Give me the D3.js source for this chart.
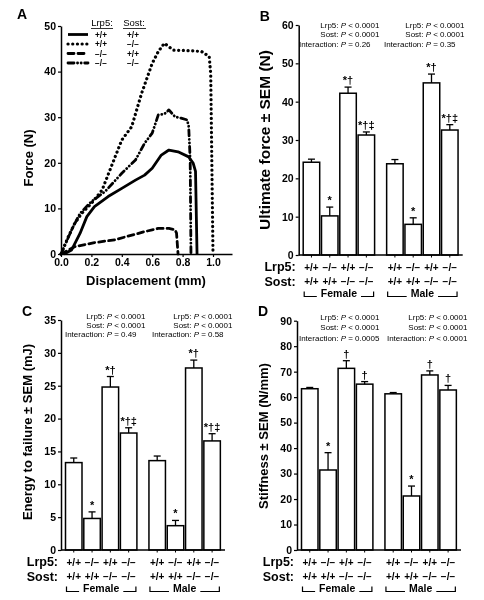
<!DOCTYPE html>
<html>
<head>
<meta charset="utf-8">
<script src="https://cdn.jsdelivr.net/npm/d3@7"></script>
<style>
  html, body { margin: 0; padding: 0; background: #fff; }
  svg { display: block; font-family: "Liberation Sans", Arial, Helvetica, sans-serif; filter: grayscale(100%); }
</style>
</head>
<body>
<svg id="chart" width="484" height="600"></svg>
<script>
// ---------------- DATA ----------------
// Panel A: force-displacement curves [displacement (mm), force (N)]
const curveWT = [[0.02,0],[0.07,0.9],[0.125,4.5],[0.17,8.2],[0.22,10.4],[0.31,12.6],[0.40,14.4],[0.49,16.2],[0.55,17.3],[0.60,18.8],[0.66,21.7],[0.71,22.8],[0.77,22.4],[0.84,21.3],[0.87,19.9],[0.885,18.1],[0.895,0]];
const curveSostKO = [[0,0],[0.048,3.8],[0.09,6.7],[0.136,8.9],[0.20,11.1],[0.27,14.0],[0.33,19.1],[0.40,25.0],[0.465,27.9],[0.53,35.2],[0.60,41.8],[0.64,44.4],[0.68,46.2],[0.74,44.7],[0.84,44.6],[0.925,44.4],[0.975,43.3],[0.985,39.5],[1.0,0]];
const curveLrp5KO = [[0,0],[0.09,1.6],[0.22,2.5],[0.355,3.1],[0.44,3.9],[0.55,4.9],[0.64,5.6],[0.71,5.6],[0.75,5.3],[0.76,4.6],[0.77,0]];
const curveDKO = [[0,0],[0.07,5.3],[0.125,8.9],[0.20,11.5],[0.29,13.7],[0.40,17.7],[0.49,20.6],[0.55,24.3],[0.60,26.5],[0.64,30.5],[0.68,30.7],[0.71,31.6],[0.75,30.1],[0.79,29.8],[0.83,29.4],[0.84,28.0],[0.85,20.6],[0.855,0]];
const legendLrp5 = ["+/+","+/+","−/−","−/−"];
const legendSost = ["+/+","−/−","+/+","−/−"];
const forceTicks = [0,10,20,30,40,50];
const dispTicks = [0,0.2,0.4,0.6,0.8,1.0];

// Panels B-D: groups
const groups = ["Female","Male"];
const lrp5Labels = ["+/+","−/−","+/+","−/−","+/+","−/−","+/+","−/−"];
const sostLabels = ["+/+","+/+","−/−","−/−","+/+","+/+","−/−","−/−"];

const forceMean = [24.2,10.2,42.2,31.3, 23.8,8.0,44.9,32.6];
const forceSem  = [0.8,2.3,1.6,0.8, 1.1,1.7,2.3,1.4];
const forceMarks = ["","*","*†","*†‡","","*","*†","*†‡"];
const forceStats = [["Lrp5:","<","0.0001","Sost:","<","0.0001","Interaction:","=","0.26"],
                    ["Lrp5:","<","0.0001","Sost:","<","0.0001","Interaction:","=","0.35"]];

const energyMean = [13.3,4.8,24.8,17.8, 13.6,3.7,27.7,16.6];
const energySem  = [0.7,1.0,1.6,0.8, 0.7,0.8,1.2,1.1];
const energyMarks = ["","*","*†","*†‡","","*","*†","*†‡"];
const energyStats = [["Lrp5:","<","0.0001","Sost:","<","0.0001","Interaction:","=","0.49"],
                     ["Lrp5:","<","0.0001","Sost:","<","0.0001","Interaction:","=","0.58"]];

const stiffMean = [63.3,31.4,71.3,65.1, 61.3,21.2,68.7,62.8];
const stiffSem  = [0.5,6.8,3.0,1.0, 0.5,3.9,1.6,1.8];
const stiffMarks = ["","*","†","†","","*","†","†"];
const stiffStats = [["Lrp5:","<","0.0001","Sost:","<","0.0001","Interaction:","=","0.0005"],
                    ["Lrp5:","<","0.0001","Sost:","<","0.0001","Interaction:","<","0.0001"]];

// ---------------- DRAW ----------------
const svg = d3.select("#chart");
svg.append("rect").attr("width",484).attr("height",600).attr("fill","#fff");

function styleAxis(g, fs) {
  g.selectAll("path.domain").attr("stroke","#000").attr("stroke-width",1.5);
  g.selectAll(".tick line").attr("stroke","#000").attr("stroke-width",1.2);
  g.selectAll(".tick text").attr("fill","#000").attr("font-size",fs).attr("font-weight","bold")
    .attr("font-family","'Liberation Sans', Arial, sans-serif");
}

// ---- Panel A ----
(function panelA(){
  const x = d3.scaleLinear().domain([0,1.125]).range([61,232]);
  const y = d3.scaleLinear().domain([0,50]).range([254,26]);
  const g = svg.append("g");
  g.append("text").attr("x",17).attr("y",19).text("A").attr("font-size",14).attr("font-weight","bold");

  const ax = g.append("g").attr("transform","translate(0,254)")
    .call(d3.axisBottom(x).tickValues(dispTicks).tickFormat(d3.format(".1f")).tickSize(3).tickSizeOuter(0).tickPadding(2));
  styleAxis(ax, 10.5);
  const ay = g.append("g").attr("transform","translate(61,0)")
    .call(d3.axisLeft(y).tickValues(forceTicks).tickSize(3).tickSizeOuter(0).tickPadding(2));
  styleAxis(ay, 10.5);

  g.append("text").attr("x",146).attr("y",285).attr("text-anchor","middle")
    .attr("font-size",13).attr("font-weight","bold").text("Displacement (mm)");
  g.append("text").attr("transform","translate(33,158) rotate(-90)").attr("text-anchor","middle")
    .attr("font-size",13).attr("font-weight","bold").text("Force (N)");

  const styles = [
    {data: curveWT, dash: null, w: 2.8},
    {data: curveSostKO, dash: "0.1,4.6", w: 3.2},
    {data: curveLrp5KO, dash: "6,4", w: 2.8},
    {data: curveDKO, dash: "6,3.5,0.1,3.5,0.1,3.5", w: 2.8}
  ];
  const line = d3.line().x(d=>x(d[0])).y(d=>y(d[1]));
  styles.forEach(s => {
    g.append("path").datum(s.data).attr("d",line).attr("fill","none").attr("stroke","#000")
      .attr("stroke-width",s.w).attr("stroke-linecap", s.dash ? "round" : "butt")
      .attr("stroke-linejoin","round").attr("stroke-dasharray", s.dash);
  });

  // legend
  const lg = g.append("g");
  lg.append("text").attr("x",102).attr("y",26).attr("text-anchor","middle").attr("font-size",9.5).text("Lrp5:");
  lg.append("text").attr("x",134).attr("y",26).attr("text-anchor","middle").attr("font-size",9.5).text("Sost:");
  lg.append("line").attr("x1",91).attr("x2",113).attr("y1",28.5).attr("y2",28.5).attr("stroke","#000").attr("stroke-width",0.8);
  lg.append("line").attr("x1",123).attr("x2",146).attr("y1",28.5).attr("y2",28.5).attr("stroke","#000").attr("stroke-width",0.8);
  const rowY = [34.5,44,53.5,63];
  styles.forEach((s,i) => {
    lg.append("line").attr("x1",68).attr("x2",88).attr("y1",rowY[i]).attr("y2",rowY[i])
      .attr("stroke","#000").attr("stroke-width",s.w).attr("stroke-linecap", s.dash ? "round":"butt")
      .attr("stroke-dasharray", s.dash);
    lg.append("text").attr("x",101).attr("y",rowY[i]+3).attr("text-anchor","middle").attr("font-size",8.2).attr("font-weight","bold").text(legendLrp5[i]);
    lg.append("text").attr("x",133).attr("y",rowY[i]+3).attr("text-anchor","middle").attr("font-size",8.2).attr("font-weight","bold").text(legendSost[i]);
  });
})();

// ---- Bar panels ----
function barPanel(cfg){
  const g = svg.append("g");
  const y = d3.scaleLinear().domain([0,cfg.yMax]).range([cfg.y0, cfg.yTop]);
  const slot = i => i + (i >= 4 ? 0.56 : 0);
  const step = 18.3, bw = 16.5;
  const x = d3.scaleLinear().domain([0,1]).range([cfg.axisX+4.5, cfg.axisX+4.5+step]);

  g.append("text").attr("x",cfg.axisX-39).attr("y",cfg.y0-234).text(cfg.label)
    .attr("font-size",14).attr("font-weight","bold");

  // stats
  cfg.stats.forEach((st, gi) => {
    const xa = cfg.statX[gi];
    for (let k=0;k<3;k++){
      const yy = cfg.statY[k];
      const t = g.append("text").attr("x",xa-2).attr("y",yy).attr("text-anchor","end").attr("font-size",8);
      t.append("tspan").text(st[k*3] + " ");
      t.append("tspan").attr("font-style","italic").text("P");
      t.append("tspan").text(" " + st[k*3+1]);
      g.append("text").attr("x",xa).attr("y",yy).attr("font-size",8).text(st[k*3+2]);
    }
  });

  // bars
  cfg.means.forEach((m,i) => {
    const bx = x(slot(i));
    g.append("rect").attr("x",bx).attr("y",y(m)).attr("width",bw).attr("height",y(0)-y(m))
      .attr("fill","#fff").attr("stroke","#000").attr("stroke-width",1.5);
    const cx = bx + bw/2, top = y(m + cfg.sems[i]);
    g.append("line").attr("x1",cx).attr("x2",cx).attr("y1",y(m)).attr("y2",top).attr("stroke","#000").attr("stroke-width",1.3);
    g.append("line").attr("x1",cx-3.5).attr("x2",cx+3.5).attr("y1",top).attr("y2",top).attr("stroke","#000").attr("stroke-width",1.3);
    if (cfg.marks[i]) g.append("text").attr("x",cx).attr("y",top-3).attr("text-anchor","middle")
      .attr("font-size",11).attr("font-weight","bold").text(cfg.marks[i]);
    // labels under bars
    g.append("text").attr("x",cx).attr("y",cfg.y0+15.5).attr("text-anchor","middle").attr("font-size",10)
      .attr("font-weight","bold").text(lrp5Labels[i]);
    g.append("text").attr("x",cx).attr("y",cfg.y0+29.5).attr("text-anchor","middle").attr("font-size",10)
      .attr("font-weight","bold").text(sostLabels[i]);
    g.append("line").attr("x1",cx).attr("x2",cx).attr("y1",cfg.y0).attr("y2",cfg.y0+2.5).attr("stroke","#000").attr("stroke-width",1);
  });

  // axes
  const ay = g.append("g").attr("transform",`translate(${cfg.axisX},0)`)
    .call(d3.axisLeft(y).tickValues(d3.range(0,cfg.yMax+0.001,cfg.tickStep)).tickSize(3).tickSizeOuter(0).tickPadding(2));
  styleAxis(ay, 10.5);
  g.append("line").attr("x1",cfg.axisX).attr("x2",cfg.axisX+164).attr("y1",cfg.y0).attr("y2",cfg.y0)
    .attr("stroke","#000").attr("stroke-width",1.5);

  g.append("text").attr("transform",`translate(${cfg.axisX-29},${cfg.titleY}) rotate(-90)`)
    .attr("text-anchor","middle").attr("font-size",cfg.titleSize).attr("font-weight","bold").text(cfg.title);

  g.append("text").attr("x",cfg.axisX-3).attr("y",cfg.y0+16).attr("text-anchor","end").attr("font-size",12.5)
    .attr("font-weight","bold").text("Lrp5:");
  g.append("text").attr("x",cfg.axisX-3).attr("y",cfg.y0+30.5).attr("text-anchor","end").attr("font-size",12.5)
    .attr("font-weight","bold").text("Sost:");

  // group brackets
  groups.forEach((name, gi) => {
    const left = x(slot(gi*4)) + 1, right = x(slot(gi*4+3)) + bw - 1;
    const by = cfg.y0 + 41.5;
    const t = g.append("text").attr("x",(left+right)/2).attr("y",by).attr("text-anchor","middle")
      .attr("font-size",10.5).attr("font-weight","bold").text(name);
    const w = t.node().getComputedTextLength();
    const tl = (left+right)/2 - w/2 - 4, tr = (left+right)/2 + w/2 + 4;
    g.append("path").attr("d",`M${left},${by-5}V${by}H${tl}`).attr("fill","none").attr("stroke","#000").attr("stroke-width",1.2);
    g.append("path").attr("d",`M${right},${by-5}V${by}H${tr}`).attr("fill","none").attr("stroke","#000").attr("stroke-width",1.2);
  });
}

barPanel({label:"B", axisX:298.7, y0:255, yTop:25, yMax:60, tickStep:10,
  means:forceMean, sems:forceSem, marks:forceMarks, stats:forceStats,
  statX:[355,440], statY:[27.5,37,46.5], title:"Ultimate force ± SEM (N)", titleSize:15.5, titleY:140});
barPanel({label:"C", axisX:61, y0:550, yTop:320, yMax:35, tickStep:5,
  means:energyMean, sems:energySem, marks:energyMarks, stats:energyStats,
  statX:[121,208], statY:[318.5,327.8,337], title:"Energy to failure ± SEM (mJ)", titleSize:13, titleY:432});
barPanel({label:"D", axisX:297, y0:550, yTop:320.7, yMax:90, tickStep:10,
  means:stiffMean, sems:stiffSem, marks:stiffMarks, stats:stiffStats,
  statX:[355,443], statY:[319.5,330.3,341.3], title:"Stiffness ± SEM (N/mm)", titleSize:13, titleY:436});
</script>
</body>
</html>
